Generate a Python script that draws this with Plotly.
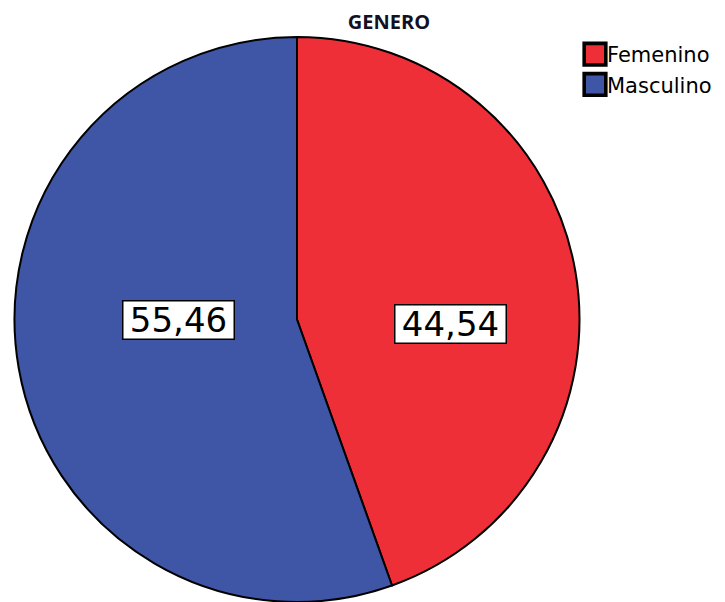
import plotly.graph_objects as go

# Gender distribution (percent)
categories = ["Femenino", "Masculino"]
percentages = [44.54, 55.46]
slice_colors = ["#EE2F37", "#3F55A5"]

W, H = 725, 602


def fmt(v):
    return f"{v:.2f}".replace(".", ",")


fig = go.Figure(
    go.Pie(
        labels=categories,
        values=percentages,
        sort=False,
        direction="clockwise",
        rotation=0,
        marker=dict(colors=slice_colors, line=dict(color="black", width=2)),
        textinfo="none",
        hoverinfo="skip",
        domain=dict(x=[14 / W, 580 / W], y=[0, 1 - 37 / H]),
    )
)

# Value labels in white boxes, one per slice
label_pos = {"Masculino": (178.5, 320), "Femenino": (450.5, 324)}
for cat, val in zip(categories, percentages):
    px, py = label_pos[cat]
    fig.add_annotation(
        x=px / W, y=1 - py / H, xref="paper", yref="paper",
        xanchor="center", yanchor="middle",
        text=fmt(val), showarrow=False,
        font=dict(family="DejaVu Sans", size=34, color="black"),
        bgcolor="white", bordercolor="black", borderwidth=1.5,
        borderpad=1, width=108, height=35,
    )

fig.update_layout(
    width=W, height=H,
    margin=dict(l=0, r=0, t=0, b=0),
    paper_bgcolor="white", plot_bgcolor="white",
    title=dict(
        text="<b>GENERO</b>", x=389 / W, xanchor="center",
        y=1 - 22 / H, yanchor="middle",
        font=dict(family="Open Sans", size=20, color="#111122"),
    ),
    legend=dict(
        x=567 / W, xanchor="left", y=1 - 34 / H, yanchor="top",
        font=dict(family="DejaVu Sans", size=21, color="black"),
        bgcolor="rgba(0,0,0,0)", tracegroupgap=0,
    ),
    showlegend=True,
)

# Larger square legend swatches, sitting right next to the text
enlarge_swatches = """
document.querySelectorAll('.legendpoints path.legendpie').forEach(function (p) {
    p.setAttribute('transform', 'translate(28,0) scale(1.8)');
});
"""

fig.write_html("out.html", post_script=enlarge_swatches)
